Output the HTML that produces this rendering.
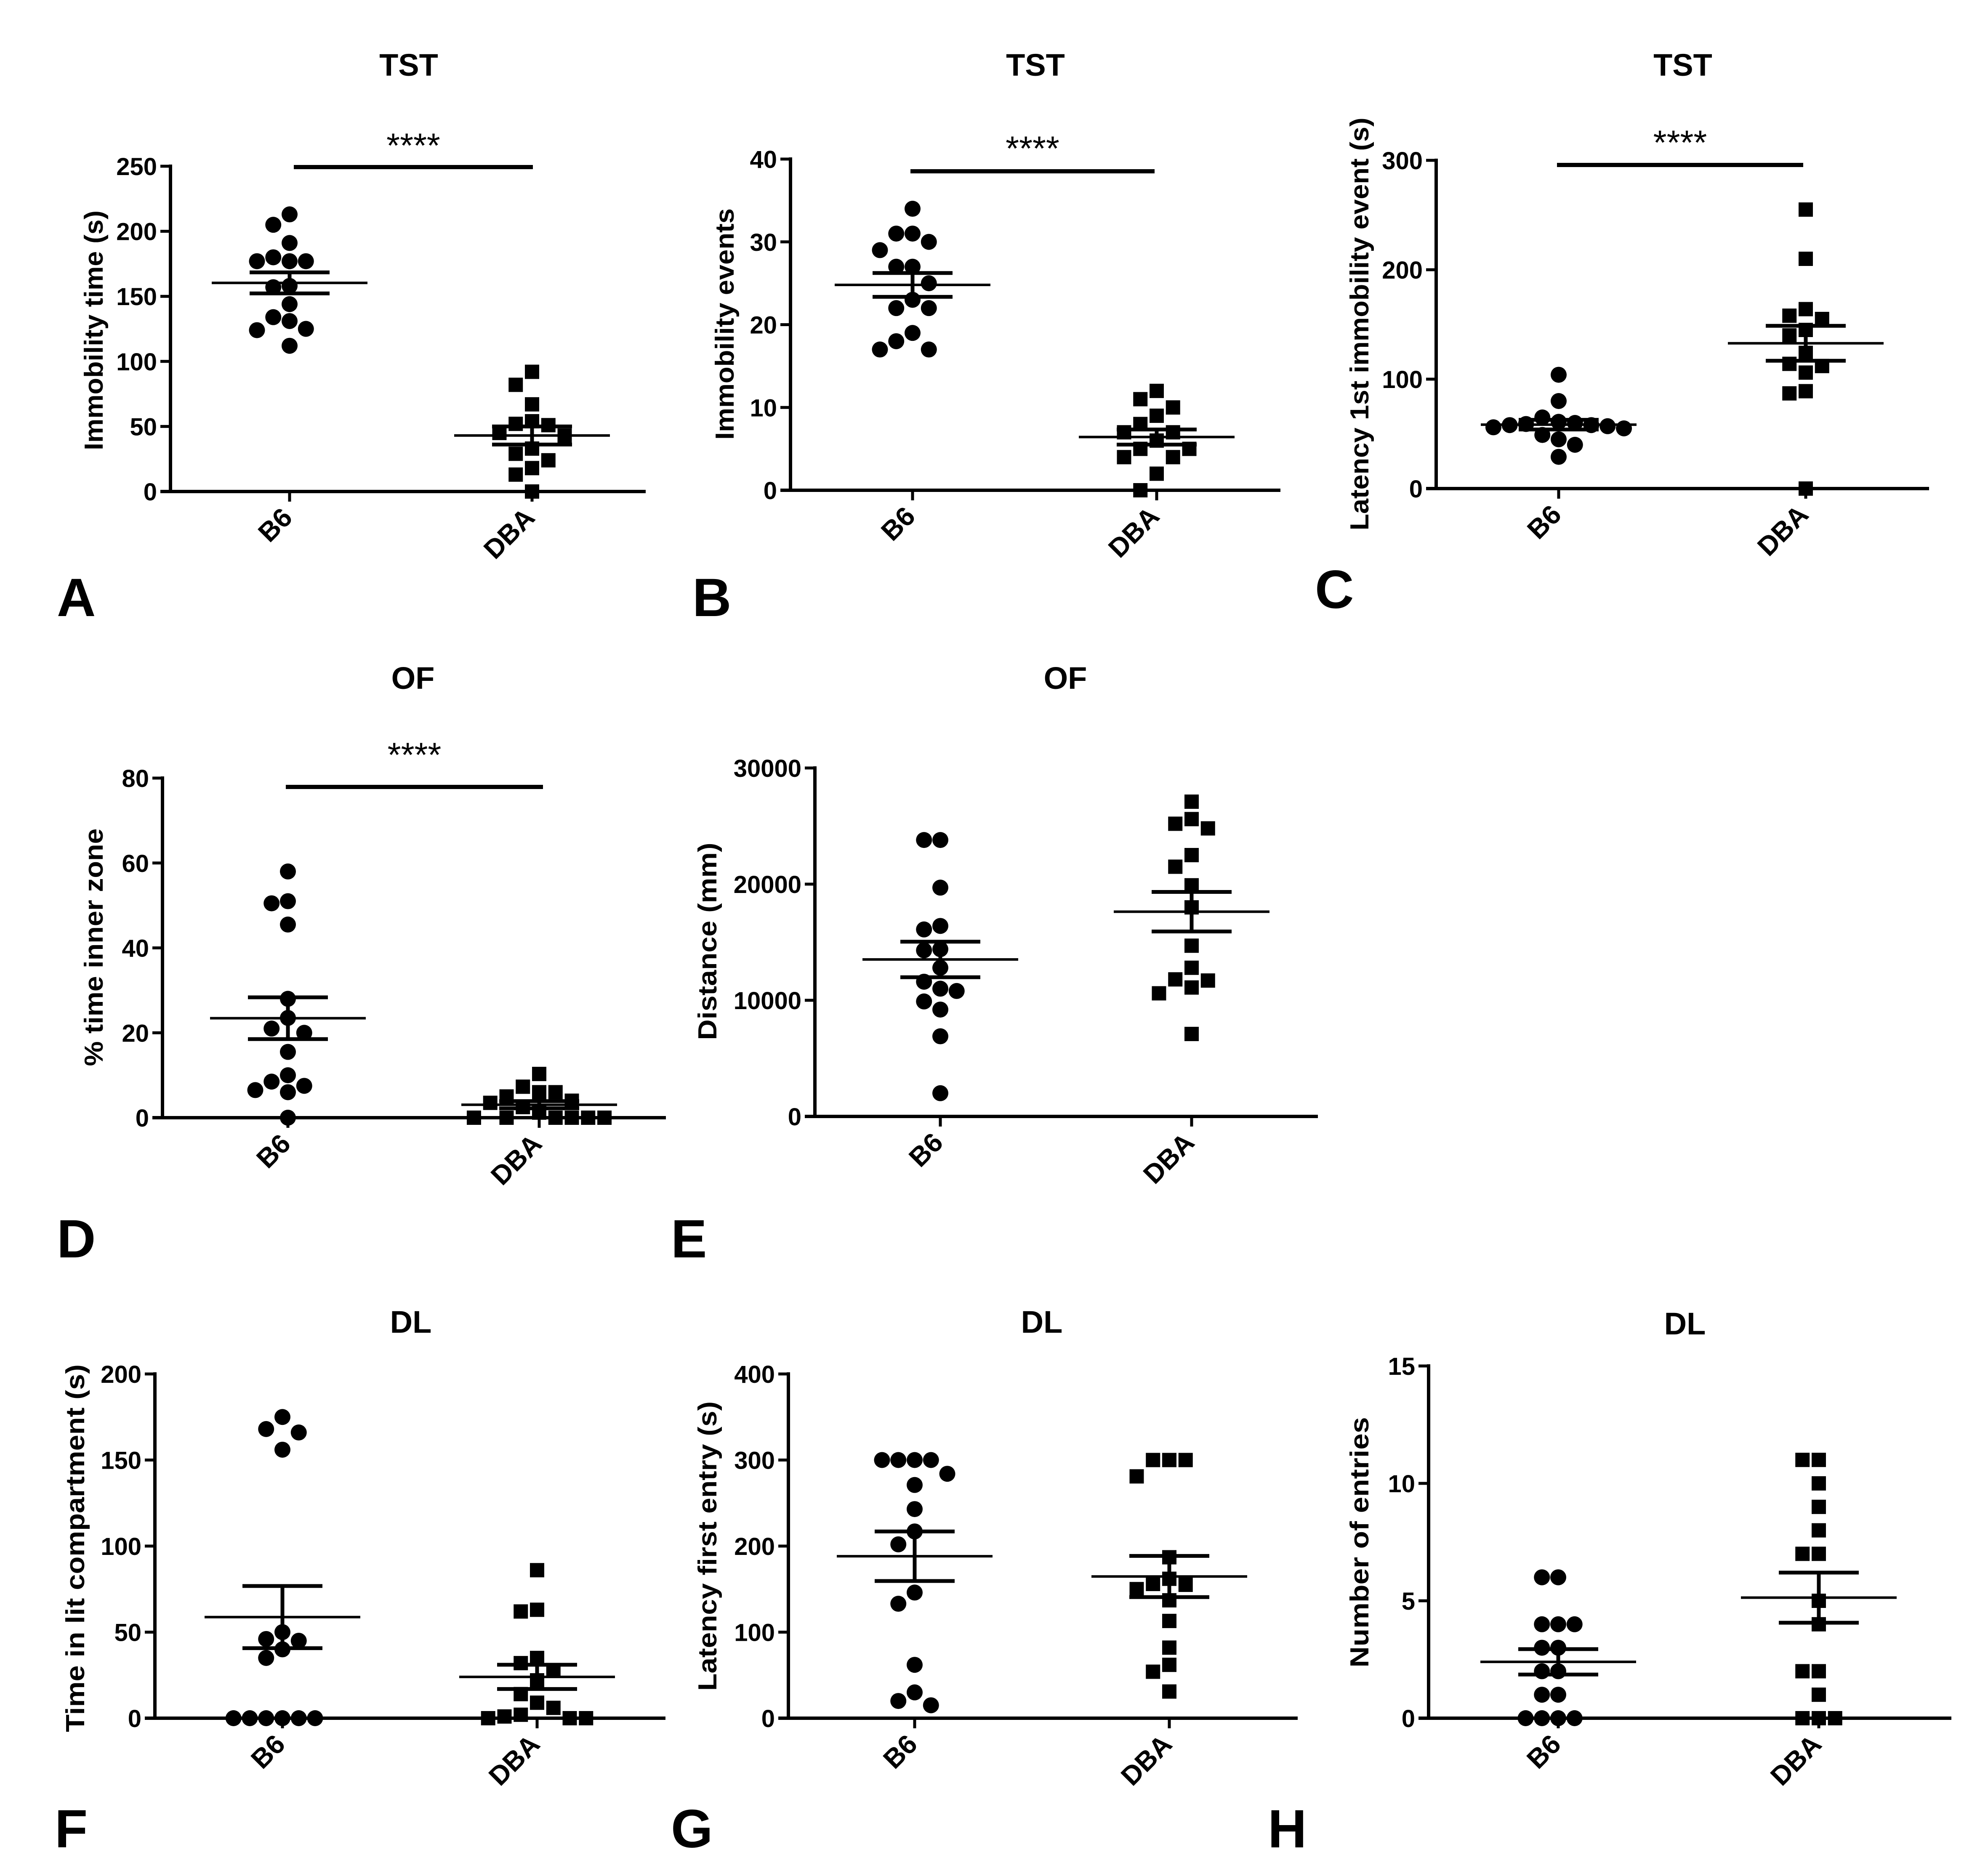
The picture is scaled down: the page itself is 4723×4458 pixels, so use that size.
<!DOCTYPE html>
<html><head><meta charset="utf-8"><title>Behavioral tests B6 vs DBA</title>
<style>
html,body{margin:0;padding:0;background:#fff;}
svg{display:block;font-family:"Liberation Sans",Arial,sans-serif;}
</style></head>
<body>
<svg id="fig" width="4723" height="4458" viewBox="0 0 4723 4458" xmlns="http://www.w3.org/2000/svg">
<rect width="4723" height="4458" fill="#fff"/>
</svg>
<script>
// ---------- data ----------
const groups = ["B6", "DBA"];
const aB6 = [213,205,191,180,177,177,177,158,157,144,134,131,125,124,112];
const aDBA = [92,82,67,54,52,51,45,43,33,29,24,18,13,0];
const aTicks = [0,50,100,150,200,250];
const bB6 = [34,31,31,30,29,27,27,25,23,22,22,19,18,17,17];
const bDBA = [12,11,10,9,8,7,7,6,5,5,4,4,2,0];
const bTicks = [0,10,20,30,40];
const cB6 = [104,80,65,61,60,59,58,58,57,56,55,49,45,40,29];
const cDBA = [255,210,164,158,155,145,140,124,114,112,106,89,87,0];
const cTicks = [0,100,200,300];
const dB6 = [58,51,50.5,45.5,28,23.5,21,20,15.5,10,8.5,7.5,6.5,6,0];
const dDBA = [10.3,7.3,6,6,5,4,3.5,2.5,1.2,0,0,0,0,0,0];
const dTicks = [0,20,40,60,80];
const eB6 = [23800,23800,19700,16400,16100,14400,14300,12800,11600,11000,10800,9900,9200,6900,2000];
const eDBA = [27100,25600,25200,24800,22500,21500,19900,18000,14700,12800,11800,11700,11100,10600,7100];
const eTicks = [0,10000,20000,30000];
const fB6 = [175,168,166,156,50,46,45,40,35,0,0,0,0,0,0];
const fDBA = [86,63,62,35,32,28,22,14,9,6,2,1,0,0,0];
const fTicks = [0,50,100,150,200];
const gB6 = [300,300,300,300,284,271,243,217,202,146,133,62,30,20,15];
const gDBA = [300,300,300,281,187,162,156,155,150,137,113,82,62,54,31];
const gTicks = [0,100,200,300,400];
const hB6 = [6,6,4,4,4,3,3,2,2,1,1,0,0,0,0];
const hDBA = [11,11,10,9,8,7,7,5,4,2,2,1,0,0,0];
const hTicks = [0,5,10,15];

// ---------- drawing ----------
const NS = "http://www.w3.org/2000/svg";
const svg = document.getElementById("fig");
function mk(tag, attrs, parent){
  const e = document.createElementNS(NS, tag);
  for (const k in attrs) e.setAttribute(k, attrs[k]);
  (parent||svg).appendChild(e);
  return e;
}
function line(g,x1,y1,x2,y2,w){
  return mk("line",{x1:x1,y1:y1,x2:x2,y2:y2,stroke:"#000","stroke-width":w},g);
}

function swarm(vals, yf, cx, d){
  const placed = [];
  const out = [];
  vals.forEach(v=>{
    const y = yf(v);
    let chosen = cx;
    for (let k=0;k<24;k++){
      const step = Math.ceil(k/2)*(k%2?-1:1);
      const x = cx + step*d*1.02;
      let ok = true;
      for (const p of placed){
        if (Math.abs(p.x-x) < d*0.98 && Math.abs(p.y-y) < d*1.05){ ok=false; break; }
      }
      if (ok){ chosen = x; break; }
    }
    placed.push({x:chosen,y:y});
    out.push({x:chosen,y:y,v:v});
  });
  return out;
}

function stats(vals){
  const n = vals.length;
  const m = vals.reduce((a,b)=>a+b,0)/n;
  const sd = Math.sqrt(vals.reduce((a,b)=>a+(b-m)*(b-m),0)/(n-1));
  return {m:m, sem: sd/Math.sqrt(n)};
}

function drawPanel(p, b6, dba, ticks){
  const g = mk("g",{});
  
  
  const ymax = ticks[ticks.length-1];
  const yf = v => p.y0 - v/ymax*(p.y0-p.ytop);
  const gx = [p.xB6, p.xDBA];

  const t = mk("text",{x:p.tx,y:p.ty+27,"text-anchor":"middle","font-size":74,"font-weight":"bold"},g);
  t.textContent = p.title;
  
  

  const yt = mk("text",{x:0,y:0,"text-anchor":"middle","font-size":62,"font-weight":"bold",
    textLength:p.ylen,lengthAdjust:"spacingAndGlyphs",
    transform:`translate(${p.ytx+22},${p.yty}) rotate(-90)`},g);
  yt.textContent = p.ytitle;
  
  

  const ya = line(g,p.ax,p.ytop-4,p.ax,p.y0+4,8);
  
  
  const xa = line(g,p.ax-24,p.y0,p.xend,p.y0,8);
  
  

  ticks.forEach(v=>{
    const y = yf(v);
    const tk = line(g,p.ax-24,y,p.ax,y,7);
    
    
    const lb = mk("text",{x:p.ax-32,y:y+21,"text-anchor":"end","font-size":58,"font-weight":"bold"},g);
    lb.textContent = String(v);
    
    
  });

  groups.forEach((name,i)=>{
    const x = gx[i];
    const tk = line(g,x,p.y0,x,p.y0+24,7);
    
    
    const lb = mk("text",{x:0,y:0,"text-anchor":"end","font-size":64,"font-weight":"bold",
      transform:`translate(${x+10},${p.y0+66}) rotate(-45)`},g);
    lb.textContent = name;
    
    
  });

  const d = 38;
  swarm(b6, yf, p.xB6, d).forEach(pt=>{
    const c = mk("circle",{cx:pt.x,cy:pt.y,r:19,fill:"#000"},g);
    
    
  });
  swarm(dba, yf, p.xDBA, d).forEach(pt=>{
    const s = mk("rect",{x:pt.x-17,y:pt.y-17,width:34,height:34,fill:"#000"},g);
    
    
  });

  [b6,dba].forEach((vals,i)=>{
    const s = stats(vals);
    const x = gx[i];
    const ym = yf(s.m), yh = yf(s.m+s.sem), yl = yf(s.m-s.sem);
    const ml = line(g,x-185,ym,x+185,ym,6);
    
    
    const v = line(g,x,yh,x,yl,9);
    
    
    const c1 = line(g,x-95,yh,x+95,yh,9);
    
    
    const c2 = line(g,x-95,yl,x+95,yl,9);
    
    
  });

  if (p.sig){
    const sb = line(g,p.sig.x1,p.sig.y,p.sig.x2,p.sig.y,10);
    
    
    const st = mk("text",{x:(p.sig.x1+p.sig.x2)/2,y:p.sig.sy+44,"text-anchor":"middle","font-size":82},g);
    st.textContent = "****";
    
    
  }

  if (p.letter){
    const L = mk("text",{x:p.lx,y:p.ly,"font-size":128,"font-weight":"bold"},g);
    L.textContent = p.letter;
    
    
  }
}

drawPanel({id:"a",title:"TST",tx:971,ty:153,ytitle:"Immobility time (s)",ytx:222,yty:785,ylen:570,
  ax:405,y0:1168,ytop:395,xend:1534,xB6:688,xDBA:1264,
  sig:{x1:698,x2:1266,y:397,sy:330},letter:"A",lx:135,ly:1464}, aB6, aDBA, aTicks);
drawPanel({id:"b",title:"TST",tx:2460,ty:153,ytitle:"Immobility events",ytx:1721,yty:770,ylen:550,
  ax:1878,y0:1165,ytop:378,xend:3042,xB6:2168,xDBA:2748,
  sig:{x1:2163,x2:2743,y:407,sy:337},letter:"B",lx:1645,ly:1464}, bB6, bDBA, bTicks);
drawPanel({id:"c",title:"TST",tx:3998,ty:153,ytitle:"Latency 1st immobility event (s)",ytx:3229,yty:770,ylen:981,
  ax:3412,y0:1161,ytop:381,xend:4583,xB6:3703,xDBA:4290,
  sig:{x1:3699,x2:4284,y:392,sy:323},letter:"C",lx:3124,ly:1445}, cB6, cDBA, cTicks);
drawPanel({id:"d",title:"OF",tx:981,ty:1610,ytitle:"% time inner zone",ytx:222,yty:2251,ylen:565,
  ax:386,y0:2656,ytop:1849,xend:1582,xB6:684,xDBA:1281,
  sig:{x1:679,x2:1290,y:1870,sy:1778},letter:"D",lx:135,ly:2988}, dB6, dDBA, dTicks);
drawPanel({id:"e",title:"OF",tx:2531,ty:1610,ytitle:"Distance (mm)",ytx:1680,yty:2237,ylen:469,
  ax:1936,y0:2653,ytop:1825,xend:3131,xB6:2234,xDBA:2831,
  sig:null,letter:"E",lx:1594,ly:2988}, eB6, eDBA, eTicks);
drawPanel({id:"f",title:"DL",tx:976,ty:3140,ytitle:"Time in lit compartment (s)",ytx:178,yty:3679,ylen:874,
  ax:368,y0:4083,ytop:3265,xend:1581,xB6:671,xDBA:1276,
  sig:null,letter:"F",lx:130,ly:4390}, fB6, fDBA, fTicks);
drawPanel({id:"g",title:"DL",tx:2475,ty:3140,ytitle:"Latency first entry (s)",ytx:1680,yty:3674,ylen:688,
  ax:1873,y0:4083,ytop:3265,xend:3083,xB6:2173,xDBA:2778,
  sig:null,letter:"G",lx:1594,ly:4390}, gB6, gDBA, gTicks);
drawPanel({id:"h",title:"DL",tx:4003,ty:3144,ytitle:"Number of entries",ytx:3229,yty:3665,ylen:595,
  ax:3394,y0:4083,ytop:3246,xend:4636,xB6:3702,xDBA:4321,
  sig:null,letter:"H",lx:3012,ly:4390}, hB6, hDBA, hTicks);
</script>
</body></html>
